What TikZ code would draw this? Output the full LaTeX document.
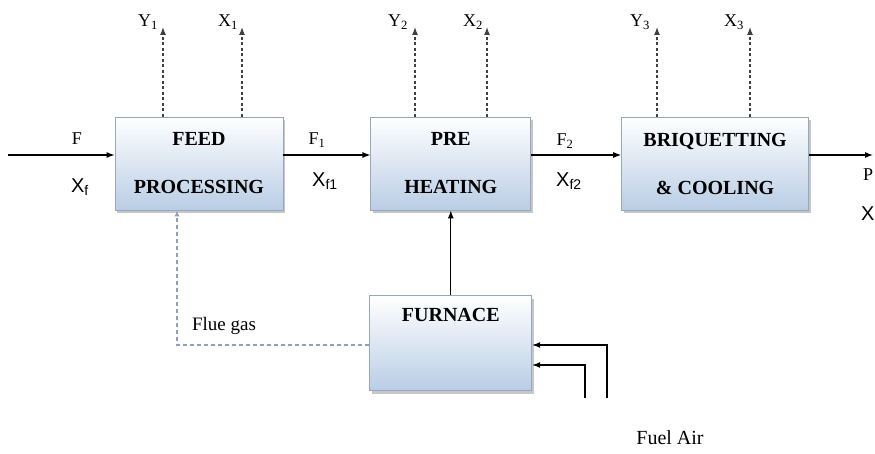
\documentclass[tikz,border=0pt]{standalone}
\usepackage{fontspec}
\setmainfont{Liberation Serif}
\newfontfamily\labelsans{Liberation Sans}
\usetikzlibrary{arrows.meta,positioning,shadows}

\definecolor{unitblue}{RGB}{185,205,229}
\definecolor{unitedge}{RGB}{150,168,192}
\definecolor{fluegray}{RGB}{140,160,195}

\begin{document}
\begin{tikzpicture}[
  x=1pt,y=-1pt,
  unit/.style={draw=unitedge,line width=0.8pt,top color=white,bottom color=unitblue,
    minimum height=93pt,inner sep=0pt,align=center,
    font=\fontsize{20}{48}\selectfont\bfseries,
    drop shadow={shadow xshift=2pt,shadow yshift=-3pt,fill=gray!55,opacity=0.8}},
  flow/.style={line width=1.1pt,-{Latex[length=8pt,width=6pt]}},
  vent/.style={flow,dash pattern=on 3pt off 2.5pt,black!75},
  lbl/.style={inner sep=0pt,font=\fontsize{18}{20}\selectfont},
  conc/.style={inner sep=0pt,font=\labelsans\fontsize{20}{22}\selectfont}
]
  \useasboundingbox (0,0) rectangle (875,454);

  \node[unit,minimum width=168pt] (feed) at (199,163.5) {FEED\\PROCESSING};
  \node[unit,minimum width=160pt,right=87pt of feed] (preheat) {PRE\\HEATING};
  \node[unit,minimum width=187pt,right=90pt of preheat] (briq) {BRIQUETTING\\\& COOLING};
  \node[unit,minimum width=162pt,minimum height=95pt,below=85pt of preheat] (furnace) {};
  \node[inner sep=0pt,font=\fontsize{20}{24}\selectfont\bfseries,below=13pt of furnace.north] (furnacelbl) {FURNACE};

  \coordinate (in) at (8,155);
  \coordinate (out) at (873,155);
  \draw[flow] (in) -- (feed.west |- in);
  \draw[flow] (feed.east |- in) -- (preheat.west |- in);
  \draw[flow] (preheat.east |- in) -- (briq.west |- in);
  \draw[flow] (briq.east |- in) -- (out);

  \coordinate (y1) at (163,27);
  \coordinate (x1) at (242,27);
  \coordinate (y2) at (415,27);
  \coordinate (x2) at (487,27);
  \coordinate (y3) at (657,27);
  \coordinate (x3) at (750,27);
  \draw[vent] (y1 |- feed.north) -- (y1);
  \draw[vent] (x1 |- feed.north) -- (x1);
  \draw[vent] (y2 |- preheat.north) -- (y2);
  \draw[vent] (x2 |- preheat.north) -- (x2);
  \draw[vent] (y3 |- briq.north) -- (y3);
  \draw[vent] (x3 |- briq.north) -- (x3);

  \node[lbl] (y1lbl) at (148,22) {Y\textsubscript{1}};
  \node[lbl] (x1lbl) at (228,22) {X\textsubscript{1}};
  \node[lbl] (y2lbl) at (398,22) {Y\textsubscript{2}};
  \node[lbl] (x2lbl) at (473,22) {X\textsubscript{2}};
  \node[lbl] (y3lbl) at (640,22) {Y\textsubscript{3}};
  \node[lbl] (x3lbl) at (734,22) {X\textsubscript{3}};

  \node[lbl] (flbl) at (77,139) {F};
  \node[lbl] (f1lbl) at (317,140) {F\textsubscript{1}};
  \node[lbl] (f2lbl) at (565,141) {F\textsubscript{2}};
  \node[lbl,anchor=west] (plbl) at (863,175) {P};
  \node[conc] (xflbl) at (80,187) {X\textsubscript{f}};
  \node[conc] (xf1lbl) at (325,181) {X\textsubscript{f1}};
  \node[conc] (xf2lbl) at (569,181) {X\textsubscript{f2}};
  \node[conc,anchor=west] (xplbl) at (861,214) {X};

  \draw[flow] (furnace.north) -- (preheat.south);

  \coordinate (flue) at (177,345);
  \draw[fluegray,line width=1.1pt,dash pattern=on 4pt off 3pt,-{Latex[length=6pt,width=5pt]}]
    (furnace.west |- flue) -- (flue) -- (flue |- feed.south);
  \node[lbl,font=\fontsize{19}{22}\selectfont] (fluelbl) at (224,326) {Flue gas};

  \coordinate (fuel) at (585,398);
  \coordinate (air) at (607,398);
  \draw[flow] (fuel) |- (furnace.east |- 0,365);
  \draw[flow] (air) |- (furnace.east |- 0,345);
  \node[lbl,font=\fontsize{20}{22}\selectfont] (fuelairlbl) at (670,438) {Fuel Air};
\end{tikzpicture}
\end{document}
